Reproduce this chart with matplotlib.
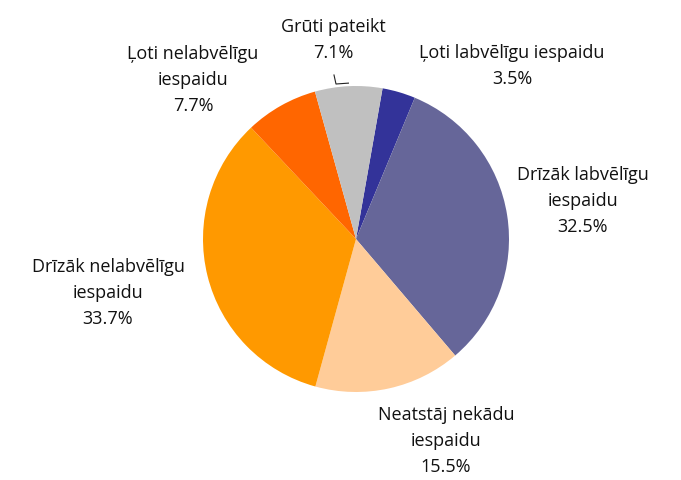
import matplotlib
matplotlib.use("Agg")
import matplotlib.pyplot as plt
import numpy as np

labels = ["Ļoti labvēlīgu iespaidu", "Drīzāk labvēlīgu\niespaidu",
          "Neatstāj nekādu\niespaidu", "Drīzāk nelabvēlīgu\niespaidu",
          "Ļoti nelabvēlīgu\niespaidu", "Grūti pateikt"]
values = [3.5, 32.5, 15.5, 33.7, 7.7, 7.1]
colors = ["#333399", "#666699", "#FFCC99", "#FF9900", "#FF6600", "#C0C0C0"]

# label centres in pixels (x from left, y from top of the picture)
label_pos = [(512, 66), (583, 201), (446, 441), (108, 293), (193, 80), (333, 40)]

W, H = 681, 481
cx, cy, r = 356, 240, 153

plt.rcParams['font.family'] = ['Open Sans', 'DejaVu Sans']

fig = plt.figure(figsize=(W / 100, H / 100), dpi=100)
ax = fig.add_axes([0, 0, 1, 1])

wedges, _ = ax.pie(values, colors=colors, startangle=80, counterclock=False,
                   radius=1, center=(0, 0), frame=True,
                   wedgeprops=dict(linewidth=0))
ax.set_xlim(-cx / r, (W - cx) / r)
ax.set_ylim(-(H - cy) / r, cy / r)
ax.set_aspect('equal')
ax.axis('off')


def to_data(px, py):
    return (px - cx) / r, (cy - py) / r


for lab, v, (px, py) in zip(labels, values, label_pos):
    x, y = to_data(px, py)
    ax.text(x, y, f"{lab}\n{v:.1f}%", ha='center', va='center',
            fontsize=13, linespacing=1.6, color='#111111')

# leader line for the small grey slice
g = wedges[-1]
mid = np.deg2rad((g.theta1 + g.theta2) / 2)
tip = (np.cos(mid) * 1.02, np.sin(mid) * 1.02)
x0, y0 = to_data(334, 76)
x1, y1 = to_data(336, 85)
ax.plot([x0, x1, tip[0]], [y0, y1, tip[1]], color='#222222', lw=0.8)

fig.savefig("out.png", dpi=100)
